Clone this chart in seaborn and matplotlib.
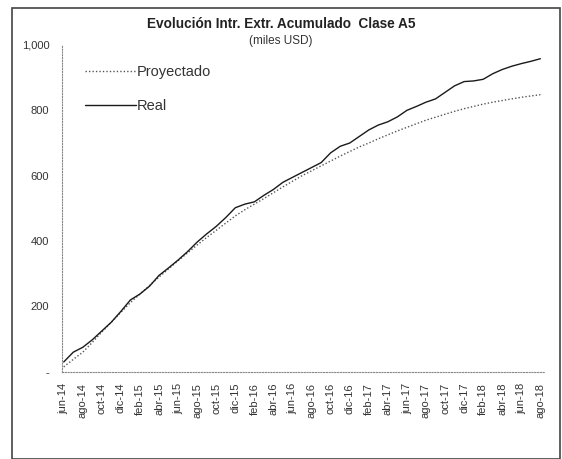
import matplotlib
matplotlib.use("Agg")
import matplotlib.pyplot as plt
import seaborn as sns
import pandas as pd

# months jun-14 .. ago-18
month_names = ["ene", "feb", "mar", "abr", "may", "jun",
               "jul", "ago", "sep", "oct", "nov", "dic"]
months = []
for i in range(51):
    m = (5 + i) % 12
    y = 14 + (5 + i) // 12
    months.append(f"{month_names[m]}-{y}")

real = [30, 60, 75, 98, 125, 152, 185, 220, 238, 262,
        295, 318, 342, 368, 397, 422, 445, 472, 502, 513,
        520, 540, 558, 580, 595, 610, 625, 640, 670, 690,
        700, 720, 740, 755, 765, 780, 800, 812, 825, 835,
        855, 875, 888, 890, 895, 912, 925, 935, 943, 950, 958]

proyectado = [15, 38, 60, 90, 122, 152, 182, 212, 238, 264,
              290, 315, 340, 364, 388, 411, 433, 455, 477, 496,
              513, 530, 548, 566, 583, 600, 615, 630, 645, 660,
              674, 688, 700, 713, 725, 737, 748, 759, 770, 779,
              788, 797, 805, 812, 819, 825, 830, 835, 840, 844, 848]

df = pd.DataFrame({"idx": range(len(months)), "Proyectado": proyectado, "Real": real})
long = df.melt(id_vars="idx", var_name="serie", value_name="valor")

sns.set_style("white")
plt.rcParams["font.family"] = ["Liberation Sans", "DejaVu Sans"]

fig = plt.figure(figsize=(5.62, 4.59), dpi=100)
ax = fig.add_axes([0.110, 0.19, 0.860, 0.712])

sns.lineplot(data=long, x="idx", y="valor", hue="serie", style="serie",
             palette={"Proyectado": "#555555", "Real": "#1a1a1a"},
             dashes={"Proyectado": (1, 1.5), "Real": ""},
             linewidth=1.0, ax=ax)

ax.set_xlim(-0.2, 50.5)
ax.set_ylim(0, 1000)
ax.set_yticks([0, 200, 400, 600, 800, 1000])
ax.set_yticklabels(["-", "200", "400", "600", "800", "1,000"], fontsize=8, color="#333333")
ax.set_xticks(range(0, 51, 2))
ax.set_xticklabels(months[::2], rotation=90, fontsize=8, color="#333333")
ax.set_xticks(range(51), minor=True)
ax.set_xlabel("")
ax.set_ylabel("")
ax.tick_params(axis="both", which="both", length=3, width=0.6, color="#888888")
ax.tick_params(axis="y", pad=6)
ax.tick_params(axis="x", pad=5)

for side in ["top", "right"]:
    ax.spines[side].set_visible(False)
for side in ["left", "bottom"]:
    ax.spines[side].set_linestyle((0, (1, 1.5)))
    ax.spines[side].set_color("#888888")
    ax.spines[side].set_linewidth(0.8)

leg = ax.legend(loc="upper left", bbox_to_anchor=(0.02, 0.98), frameon=False,
                fontsize=10.5, handlelength=3.5, handletextpad=0.1, labelspacing=1.4)
for t in leg.get_texts():
    t.set_color("#333333")

fig.text(0.5, 0.94, "Evolución Intr. Extr. Acumulado  Clase A5", ha="center",
         fontsize=9.8, fontweight="bold", color="#222222")
fig.text(0.5, 0.905, "(miles USD)", ha="center", fontsize=8.5, color="#333333")

# outer frame
frame = plt.Rectangle((0.022, 0.0), 0.974, 0.982, transform=fig.transFigure,
                      fill=False, edgecolor="#444444", linewidth=1.2)
fig.patches.append(frame)

fig.savefig("out.png", dpi=100)
